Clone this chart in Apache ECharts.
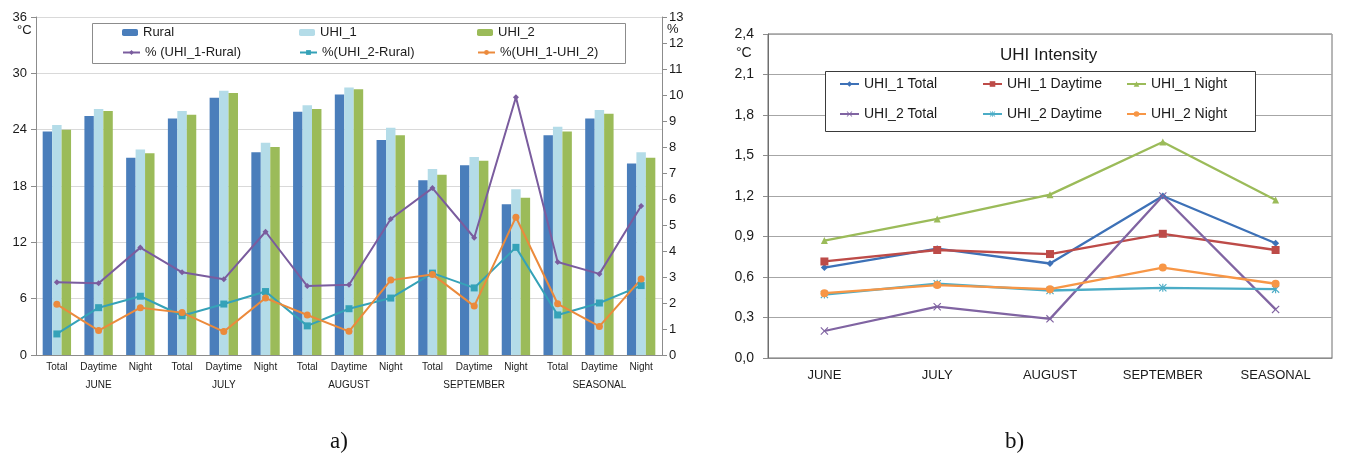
<!DOCTYPE html>
<html>
<head>
<meta charset="utf-8">
<script src="https://cdn.jsdelivr.net/npm/echarts@6/dist/echarts.min.js"></script>
<style>
  html, body { margin: 0; padding: 0; background: #fff; }
  #chart { width: 1346px; height: 459px; }
</style>
</head>
<body>
<div id="chart"></div>
<script>
// ---- Panel a) monthly temperatures and percentage differences ----
const subCategories = ['Total', 'Daytime', 'Night', 'Total', 'Daytime', 'Night', 'Total', 'Daytime', 'Night',
                       'Total', 'Daytime', 'Night', 'Total', 'Daytime', 'Night'];
const periods = ['JUNE', 'JULY', 'AUGUST', 'SEPTEMBER', 'SEASONAL'];

const rural = [23.8, 25.45, 21.0, 25.2, 27.4, 21.6, 25.9, 27.75, 22.9, 18.6, 20.2, 16.05, 23.4, 25.2, 20.4];
const uhi1  = [24.5, 26.2, 21.9, 26.0, 28.15, 22.6, 26.6, 28.5, 24.2, 19.8, 21.1, 17.65, 24.3, 26.1, 21.6];
const uhi2  = [24.0, 26.0, 21.5, 25.6, 27.9, 22.15, 26.2, 28.3, 23.4, 19.2, 20.7, 16.75, 23.8, 25.7, 21.0];

const pctUhi1Rural = [2.80, 2.76, 4.13, 3.18, 2.91, 4.74, 2.65, 2.70, 5.23, 6.42, 4.51, 9.91, 3.58, 3.12, 5.73];
const pctUhi2Rural = [0.81, 1.82, 2.26, 1.51, 1.96, 2.44, 1.12, 1.78, 2.19, 3.15, 2.58, 4.14, 1.54, 2.00, 2.67];
const pctUhi1Uhi2  = [1.95, 0.94, 1.82, 1.63, 0.90, 2.19, 1.54, 0.91, 2.88, 3.10, 1.88, 5.30, 1.97, 1.10, 2.92];

// ---- Panel b) UHI intensity per period ----
const intensityPeriods = ['JUNE', 'JULY', 'AUGUST', 'SEPTEMBER', 'SEASONAL'];
const uhi1Total   = [0.67, 0.81, 0.70, 1.20, 0.85];
const uhi1Daytime = [0.715, 0.80, 0.77, 0.92, 0.80];
const uhi1Night   = [0.87, 1.03, 1.21, 1.60, 1.17];
const uhi2Total   = [0.20, 0.38, 0.29, 1.20, 0.36];
const uhi2Daytime = [0.47, 0.55, 0.50, 0.52, 0.51];
const uhi2Night   = [0.48, 0.54, 0.51, 0.67, 0.55];

const FONT = 'Liberation Sans, Arial, sans-serif';
const TXT = '#1a1a1a';

const C = {
  rural: '#4a7ebb', uhi1: '#b4dce8', uhi2: '#9bbb59',
  purple: '#7a5c9e', teal: '#35a2b8', orange: '#eb8a3c',
  bBlue: '#3d71b7', bRed: '#bd4b48', bGreen: '#9bbb59', bPurple: '#8064a2', bTeal: '#4bacc6', bOrange: '#f79646'
};

const crossPath = 'path://M0,1L1,0L5,4L9,0L10,1L6,5L10,9L9,10L5,6L1,10L0,9L4,5Z';
const starPath = 'path://M0,1L1,0L5,4L9,0L10,1L6,5L10,9L9,10L5,6L1,10L0,9L4,5Z M4.3,0L5.7,0L5.7,10L4.3,10Z';

function leg(name, left, top, fontSize, iw, ih) {
  return {
    data: [name], left: left, top: top, padding: 0, itemGap: 0,
    itemWidth: iw, itemHeight: ih, selectedMode: false, z: 6,
    textStyle: { fontSize: fontSize, color: TXT, fontFamily: FONT }
  };
}

function lineA(name, data, color, symbol, size) {
  return {
    name: name, type: 'line', xAxisIndex: 0, yAxisIndex: 1, data: data,
    symbol: symbol, symbolSize: size, z: 3,
    lineStyle: { color: color, width: 2 },
    itemStyle: { color: color }
  };
}

function lineB(name, data, color, symbol, size) {
  return {
    name: name, type: 'line', xAxisIndex: 2, yAxisIndex: 2, data: data,
    symbol: symbol, symbolSize: size, z: 3,
    lineStyle: { color: color, width: 2.3 },
    itemStyle: { color: color }
  };
}

const fmtComma = v => v.toFixed(1).replace('.', ',');

const option = {
  animation: false,
  textStyle: { fontFamily: FONT },
  grid: [
    { left: 36, top: 17, width: 626, height: 338 },
    { left: 768, top: 34, width: 564, height: 324, show: true, borderColor: '#6e6e6e', borderWidth: 1 }
  ],
  xAxis: [
    {
      type: 'category', gridIndex: 0, data: subCategories, position: 'bottom',
      axisLine: { lineStyle: { color: '#8c8c8c' } },
      axisTick: { interval: 0, length: 18, lineStyle: { color: '#999999' } },
      axisLabel: { interval: 0, fontSize: 10, color: TXT, margin: 7 }
    },
    {
      type: 'category', gridIndex: 0, data: periods, position: 'bottom',
      axisLine: { show: false },
      axisTick: { interval: 0, length: 36, lineStyle: { color: '#999999' } },
      axisLabel: { interval: 0, fontSize: 10, color: TXT, margin: 25 }
    },
    {
      type: 'category', gridIndex: 1, data: intensityPeriods,
      axisLine: { lineStyle: { color: '#8c8c8c' } },
      axisTick: { interval: 0, length: 5, lineStyle: { color: '#8c8c8c' } },
      axisLabel: { interval: 0, fontSize: 13, color: TXT, margin: 11 }
    }
  ],
  yAxis: [
    {
      type: 'value', gridIndex: 0, min: 0, max: 36, interval: 6,
      axisLine: { show: true, lineStyle: { color: '#8c8c8c' } },
      axisTick: { show: true, length: 5, lineStyle: { color: '#8c8c8c' } },
      axisLabel: { fontSize: 13, color: TXT, margin: 9 },
      splitLine: { lineStyle: { color: '#d9d9d9' } }
    },
    {
      type: 'value', gridIndex: 0, position: 'right', min: 0, max: 13, interval: 1,
      axisLine: { show: true, lineStyle: { color: '#8c8c8c' } },
      axisTick: { show: true, length: 5, lineStyle: { color: '#8c8c8c' } },
      axisLabel: { fontSize: 13, color: TXT, margin: 7 },
      splitLine: { show: false }
    },
    {
      type: 'value', gridIndex: 1, min: 0, max: 2.4, interval: 0.3,
      axisLine: { show: true, lineStyle: { color: '#6e6e6e' } },
      axisTick: { show: true, length: 5, lineStyle: { color: '#8c8c8c' } },
      axisLabel: { fontSize: 14, color: TXT, margin: 14, formatter: fmtComma },
      splitLine: { lineStyle: { color: '#a6a6a6' } }
    }
  ],
  legend: [
    leg('Rural', 122, 26, 13, 16, 7),
    leg('UHI_1', 299, 26, 13, 16, 7),
    leg('UHI_2', 477, 26, 13, 16, 7),
    leg('% (UHI_1-Rural)', 122, 46, 13, 17, 6),
    leg('%(UHI_2-Rural)', 299, 46, 13, 17, 6),
    leg('%(UHI_1-UHI_2)', 477, 46, 13, 17, 6),
    leg('UHI_1 Total', 839, 77, 14, 19, 7),
    leg('UHI_1 Daytime', 982, 77, 14, 19, 7),
    leg('UHI_1 Night', 1126, 77, 14, 19, 7),
    leg('UHI_2 Total', 839, 107, 14, 19, 7),
    leg('UHI_2 Daytime', 982, 107, 14, 19, 7),
    leg('UHI_2 Night', 1126, 107, 14, 19, 7)
  ],
  series: [
    { name: 'Rural', type: 'bar', xAxisIndex: 0, yAxisIndex: 0, data: rural,
      barGap: '0%', barCategoryGap: '32%', itemStyle: { color: C.rural } },
    { name: 'UHI_1', type: 'bar', xAxisIndex: 0, yAxisIndex: 0, data: uhi1,
      barGap: '0%', barCategoryGap: '32%', itemStyle: { color: C.uhi1 } },
    { name: 'UHI_2', type: 'bar', xAxisIndex: 0, yAxisIndex: 0, data: uhi2,
      barGap: '0%', barCategoryGap: '32%', itemStyle: { color: C.uhi2 } },
    lineA('% (UHI_1-Rural)', pctUhi1Rural, C.purple, 'diamond', 6),
    lineA('%(UHI_2-Rural)', pctUhi2Rural, C.teal, 'rect', 7),
    lineA('%(UHI_1-UHI_2)', pctUhi1Uhi2, C.orange, 'circle', 7),

    lineB('UHI_1 Total', uhi1Total, C.bBlue, 'diamond', 7),
    lineB('UHI_1 Daytime', uhi1Daytime, C.bRed, 'rect', 8),
    lineB('UHI_1 Night', uhi1Night, C.bGreen, 'triangle', 7),
    lineB('UHI_2 Total', uhi2Total, C.bPurple, crossPath, 8),
    lineB('UHI_2 Daytime', uhi2Daytime, C.bTeal, starPath, 8),
    lineB('UHI_2 Night', uhi2Night, C.bOrange, 'circle', 8)
  ],
  graphic: [
    { type: 'rect', z: 5, shape: { x: 92.5, y: 23.5, width: 533, height: 40 },
      style: { fill: '#fff', stroke: '#8c8c8c', lineWidth: 1 } },
    { type: 'rect', z: 5, shape: { x: 825.5, y: 71.5, width: 430, height: 60 },
      style: { fill: '#fff', stroke: '#3a3a3a', lineWidth: 1 } },
    { type: 'text', z: 6, left: 17, top: 24,
      style: { text: '°C', fontSize: 13, fill: TXT, fontFamily: FONT } },
    { type: 'text', z: 6, left: 667, top: 23,
      style: { text: '%', fontSize: 13, fill: TXT, fontFamily: FONT } },
    { type: 'text', z: 6, left: 736, top: 46,
      style: { text: '°C', fontSize: 14, fill: TXT, fontFamily: FONT } },
    { type: 'text', z: 6, left: 1000, top: 47,
      style: { text: 'UHI Intensity', fontSize: 17, fill: TXT, fontFamily: FONT } },
    { type: 'text', z: 6, left: 330, top: 430,
      style: { text: 'a)', fontSize: 23, fill: '#111', fontFamily: 'Liberation Serif, Times New Roman, serif' } },
    { type: 'text', z: 6, left: 1005, top: 430,
      style: { text: 'b)', fontSize: 23, fill: '#111', fontFamily: 'Liberation Serif, Times New Roman, serif' } }
  ]
};

const chart = echarts.init(document.getElementById('chart'), null, { renderer: 'canvas' });
chart.setOption(option);
</script>
</body>
</html>
